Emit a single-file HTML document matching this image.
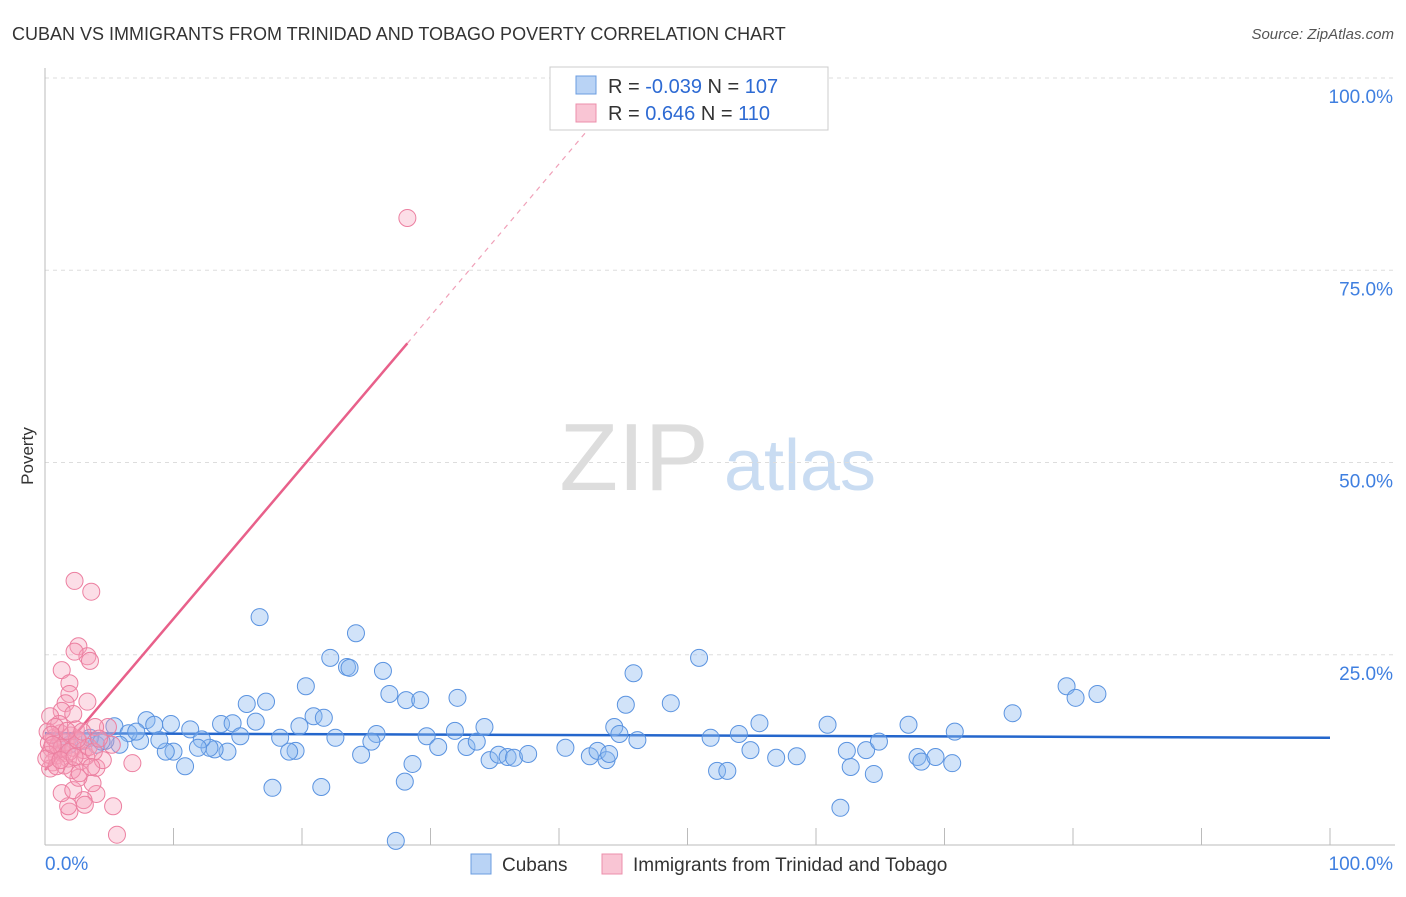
<!DOCTYPE html>
<html><head><meta charset="utf-8"><style>
body{margin:0;background:#fff;font-family:"Liberation Sans",sans-serif}
svg text{font-family:"Liberation Sans",sans-serif}
</style></head><body>
<svg id="chart" width="1406" height="892" xmlns="http://www.w3.org/2000/svg">
<text x="12" y="40" font-size="18" fill="#333">CUBAN VS IMMIGRANTS FROM TRINIDAD AND TOBAGO POVERTY CORRELATION CHART</text>
<text x="1394" y="39" font-size="15" fill="#555" text-anchor="end" font-style="italic">Source: ZipAtlas.com</text>
<g><text x="634" y="490" font-size="96" fill="#ddd" font-family="Liberation Serif" text-anchor="middle">ZIP</text><text x="800" y="490" font-size="72" fill="#c9dcf2" text-anchor="middle">atlas</text></g>
<g id="grid"></g><g id="axes"></g>
<text transform="translate(33,456) rotate(-90)" font-size="17" fill="#333" text-anchor="middle">Poverty</text>
<g id="trends"></g><g id="points"></g>
<g>
<rect x="550" y="67" width="278" height="63" fill="#fff" stroke="#ccc"/>
<rect x="576" y="76" width="20" height="18" fill="#b9d3f5" stroke="#6b9de0"/>
<rect x="576" y="104" width="20" height="18" fill="#f9c5d4" stroke="#ec8fab"/>
<text x="608" y="93" font-size="20" fill="#333">R = <tspan fill="#2d6ad3">-0.039</tspan>   N = <tspan fill="#2d6ad3">107</tspan></text>
<text x="608" y="120" font-size="20" fill="#333">R =   <tspan fill="#2d6ad3">0.646</tspan>   N =  <tspan fill="#2d6ad3">110</tspan></text>
</g>
<g>
<rect x="471" y="854" width="20" height="20" fill="#b9d3f5" stroke="#6b9de0"/>
<text x="502" y="871" font-size="19" fill="#333">Cubans</text>
<rect x="602" y="854" width="20" height="20" fill="#f9c5d4" stroke="#ec8fab"/>
<text x="633" y="871" font-size="19" fill="#333">Immigrants from Trinidad and Tobago</text>
</g>
</svg>
<script>
const yTicks=[25,50,75,100];
const yTickLabels=["25.0%","50.0%","75.0%","100.0%"];
const xTickLabels=["0.0%","100.0%"];
const blueX=[5.4,7.9,8.5,9.8,11.3,13.7,14.6,16.4,16.7,17.2,15.7,19.8,20.3,20.9,21.7,22.2,23.5,23.7,24.2,26.3,26.8,28.1,29.2,32.1,34.2,31.9,25.8,24.6,25.4,22.6,19.5,19.0,18.3,15.2,14.2,13.2,12.8,12.2,11.9,10.9,10.0,9.4,8.9,7.4,6.5,5.8,4.7,4.0,7.1,17.7,21.5,28.0,27.3,28.6,29.7,30.6,32.8,33.6,34.6,35.3,36.0,36.5,37.6,40.5,42.4,43.0,43.7,43.9,44.3,44.7,45.2,45.8,46.1,48.7,50.9,51.8,52.3,53.1,54.0,54.9,55.6,56.9,58.5,60.9,61.9,62.4,62.7,63.9,64.5,64.9,67.2,67.9,68.2,69.3,70.6,70.8,75.3,79.5,80.2,81.9,3.0,3.5,4.4,1.2,1.9];
const blueY=[15.7,16.5,15.9,16.0,15.3,16.0,16.1,16.3,29.9,18.9,18.6,15.7,20.9,17.0,16.8,24.6,23.4,23.3,27.8,22.9,19.9,19.1,19.1,19.4,15.6,15.1,14.7,12.0,13.7,14.2,12.5,12.4,14.2,14.4,12.4,12.7,12.9,14.0,12.9,10.5,12.4,12.4,13.9,13.8,14.8,13.3,13.8,13.3,15.0,7.7,7.8,8.5,0.8,10.8,14.4,13.0,13.0,13.7,11.3,12.0,11.7,11.6,12.1,12.9,11.8,12.5,11.3,12.1,15.6,14.7,18.5,22.6,13.9,18.7,24.6,14.2,9.9,9.9,14.7,12.6,16.1,11.6,11.8,15.9,5.1,12.5,10.4,12.6,9.5,13.7,15.9,11.7,11.1,11.7,10.9,15.0,17.4,20.9,19.4,19.9,13.8,14.2,13.7,13.9,13.3];
const pinkX=[2.3,3.6,28.2,2.6,3.3,3.5,2.3,1.3,1.9,1.9,1.6,3.3,1.3,2.2,0.4,5.6,5.3,4.0,1.9,3.0,1.8,3.1,1.3,2.2,3.7,2.6,4.0,4.5,5.2,6.8,4.9,3.9,0.3,0.5,0.7,0.2,0.9,1.0,1.2,1.4,0.6,0.4,1.6,1.8,2.0,2.2,2.4,2.6,2.8,3.0,1.1,0.8,1.5,2.1,2.7,3.2,3.4,3.8,4.2,1.3,0.5,0.3,1.9,2.5,0.9,1.7,2.9,3.6,0.1,0.6,1.2,2.3];
const pinkY=[34.6,33.2,81.8,26.1,24.8,24.2,25.4,23.0,21.3,19.9,18.7,18.9,17.7,17.3,17.0,1.6,5.3,6.9,4.6,6.1,5.3,5.5,7.0,7.4,8.3,9.0,10.3,11.3,13.3,10.9,15.6,15.6,13.5,12.8,14.2,15.0,11.9,13.1,14.8,12.2,11.0,10.2,13.6,11.5,14.5,12.9,15.3,13.8,11.2,12.6,16.0,15.6,10.6,10.0,9.6,11.8,13.0,12.4,14.1,12.9,14.6,12.0,12.4,14.0,10.5,15.1,15.0,10.4,11.5,13.3,11.3,11.7];
const blueTrend=[[0,14.8],[100,14.2]];
const pinkTrendSolid=[[0,10.0],[28.2,65.5]];
const pinkTrendDash=[[28.2,65.5],[45.1,98.9]];
const X0=45,X1=1330,Y0=847,Y100=78;
const xs=v=>X0+(X1-X0)*v/100, ys=v=>Y0-(Y0-Y100)*v/100;
const NS="http://www.w3.org/2000/svg";
function mk(tag,attrs,parent){const e=document.createElementNS(NS,tag);for(const k in attrs)e.setAttribute(k,attrs[k]);parent.appendChild(e);return e;}
const grid=document.getElementById('grid'),axes=document.getElementById('axes');
yTicks.forEach((t,i)=>{
 const l=mk('line',{x1:45,x2:1395,y1:ys(t),y2:ys(t),stroke:'#ddd','stroke-dasharray':'4,4'},grid);
 
 
 const tx=mk('text',{x:1393,y:ys(t)+25,'font-size':19,fill:'#3f7fe0','text-anchor':'end'},axes);
 tx.textContent=yTickLabels[i];
 
 
});
const ax=mk('line',{x1:45,x2:1395,y1:845,y2:845,stroke:'#bbb'},axes);


const ay=mk('line',{x1:45,x2:45,y1:68,y2:845,stroke:'#bbb'},axes);


for(let i=0;i<=10;i++){const t=mk('line',{x1:xs(i*10),x2:xs(i*10),y1:828,y2:845,stroke:'#bbb'},axes);
 
 }
const xl0=mk('text',{x:45,y:870,'font-size':19,fill:'#3f7fe0'},axes);xl0.textContent=xTickLabels[0];


const xl1=mk('text',{x:1393,y:870,'font-size':19,fill:'#3f7fe0','text-anchor':'end'},axes);xl1.textContent=xTickLabels[1];


const pts=document.getElementById('points');
blueX.forEach((v,i)=>{const c=mk('circle',{cx:xs(v),cy:ys(blueY[i]),r:8.5,fill:'rgba(140,185,240,0.4)',stroke:'#5a93e0','stroke-width':1},pts);
 
 });
pinkX.forEach((v,i)=>{const c=mk('circle',{cx:xs(v),cy:ys(pinkY[i]),r:8.5,fill:'rgba(245,160,185,0.35)',stroke:'#ec7fa0','stroke-width':1},pts);
 
 });
const tr=document.getElementById('trends');
const b=mk('line',{x1:xs(blueTrend[0][0]),y1:ys(blueTrend[0][1]),x2:xs(blueTrend[1][0]),y2:ys(blueTrend[1][1]),stroke:'#2466cc','stroke-width':2.5},tr);


const p=mk('line',{x1:xs(pinkTrendSolid[0][0]),y1:ys(pinkTrendSolid[0][1]),x2:xs(pinkTrendSolid[1][0]),y2:ys(pinkTrendSolid[1][1]),stroke:'#e8608a','stroke-width':2.5},tr);


const pd=mk('line',{x1:xs(pinkTrendDash[0][0]),y1:ys(pinkTrendDash[0][1]),x2:xs(pinkTrendDash[1][0]),y2:ys(pinkTrendDash[1][1]),stroke:'#f0a0b8','stroke-width':1.2,'stroke-dasharray':'5,5'},tr);


</script>
</body></html>
